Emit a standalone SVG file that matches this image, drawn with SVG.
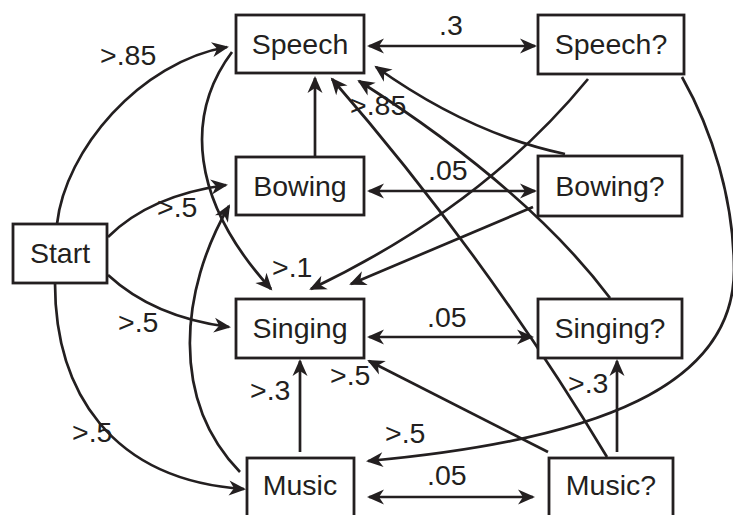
<svg xmlns="http://www.w3.org/2000/svg" width="733" height="515" viewBox="0 0 733 515">
  <style>
    .box { fill: #ffffff; stroke: #231f20; stroke-width: 2.8; }
    .lbl { font-family: "Liberation Sans", Arial, Helvetica, sans-serif; font-size: 28.5px; fill: #231f20; }
    .name { text-anchor: middle; }
    .edge { fill: none; stroke: #231f20; stroke-width: 2.7; marker-end: url(#ah); }
    .both { marker-start: url(#ah); }
  </style>
  <defs>
    <marker id="ah" viewBox="-16 -9 19 18" refX="0" refY="0" markerWidth="19" markerHeight="18" markerUnits="userSpaceOnUse" orient="auto-start-reverse">
      <path d="M2,0 L-15,-7.5 L-10,0 L-15,7.5 Z" fill="#231f20"/>
    </marker>
  </defs>
  <rect width="733" height="515" fill="#ffffff"/>

  <g id="connectors">
    <!-- from Start -->
    <path class="edge" d="M57,224 C65,150 140,62 227,47"/>
    <path class="edge" d="M108,237 C135,210 175,192 226,185"/>
    <path class="edge" d="M108,275 C135,300 175,320 229,327"/>
    <path class="edge" d="M55,283 C55,390 110,480 244,489"/>
    <!-- Speech to Singing -->
    <path class="edge" d="M232,52 C185,115 190,200 271,289"/>
    <!-- Bowing to Speech -->
    <path class="edge" d="M315,156 L315,78"/>
    <!-- Music up to Singing and Bowing -->
    <path class="edge" d="M300,452 L300,361"/>
    <path class="edge" d="M240,472 C170,400 180,290 229,206"/>
    <!-- horizontal pairs -->
    <path class="edge both" d="M369,46 L535,46"/>
    <path class="edge both" d="M369,191 L535,191"/>
    <path class="edge both" d="M369,337 L532,337"/>
    <path class="edge both" d="M369,497 L533,497"/>
    <!-- question nodes back to the left column -->
    <path class="edge" d="M588,79 Q483,207 311,289"/>
    <path class="edge" d="M533,207 L351,284"/>
    <path class="edge" d="M565,154 Q470,134 376,67"/>
    <path class="edge" d="M610,298 Q528,189 359,81"/>
    <path class="edge" d="M607,457 Q486,256 332,79"/>
    <path class="edge" d="M548,452 L369,361"/>
    <path class="edge" d="M617,452 L617,361"/>
    <path class="edge" d="M682,77 C712,130 734,200 734,270 C734,385 600,440 368,461"/>
  </g>

  <g id="labels" class="lbl">
    <text x="100" y="65">&gt;.85</text>
    <text x="157" y="217">&gt;.5</text>
    <text x="118" y="332">&gt;.5</text>
    <text x="72" y="442">&gt;.5</text>
    <text x="272" y="277">&gt;.1</text>
    <text x="250" y="400">&gt;.3</text>
    <text x="330" y="385">&gt;.5</text>
    <text x="568" y="393">&gt;.3</text>
    <text x="385" y="443">&gt;.5</text>
    <text x="350" y="115">&gt;.85</text>
    <text x="439" y="35">.3</text>
    <text x="428" y="180">.05</text>
    <text x="427" y="327">.05</text>
    <text x="427" y="485">.05</text>
  </g>

  <g id="start">
    <rect class="box" x="13" y="224" width="94" height="59"/>
    <text class="lbl name" x="60" y="263">Start</text>
  </g>
  <g id="speech">
    <rect class="box" x="236" y="15" width="128" height="58"/>
    <text class="lbl name" x="300" y="54">Speech</text>
  </g>
  <g id="bowing">
    <rect class="box" x="236" y="157" width="128" height="58"/>
    <text class="lbl name" x="300" y="196">Bowing</text>
  </g>
  <g id="singing">
    <rect class="box" x="236" y="299" width="128" height="59"/>
    <text class="lbl name" x="300" y="338">Singing</text>
  </g>
  <g id="music">
    <rect class="box" x="247" y="458" width="107" height="64"/>
    <text class="lbl name" x="300" y="495">Music</text>
  </g>
  <g id="speech-q">
    <rect class="box" x="538" y="15" width="146" height="59"/>
    <text class="lbl name" x="611" y="54">Speech?</text>
  </g>
  <g id="bowing-q">
    <rect class="box" x="538" y="156" width="144" height="60"/>
    <text class="lbl name" x="610" y="196">Bowing?</text>
  </g>
  <g id="singing-q">
    <rect class="box" x="538" y="299" width="144" height="59"/>
    <text class="lbl name" x="610" y="338">Singing?</text>
  </g>
  <g id="music-q">
    <rect class="box" x="549" y="458" width="124" height="64"/>
    <text class="lbl name" x="611" y="495">Music?</text>
  </g>
</svg>
